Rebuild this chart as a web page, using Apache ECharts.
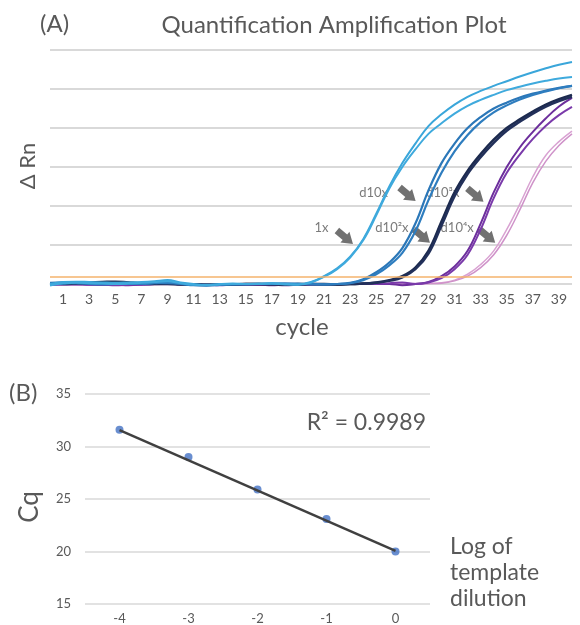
<!DOCTYPE html>
<html>
<head>
<meta charset="utf-8">
<script src="https://cdn.jsdelivr.net/npm/echarts@6/dist/echarts.min.js"></script>
<style>
  html, body { margin: 0; padding: 0; background: #fff; }
  #chart { width: 580px; height: 625px; }
</style>
</head>
<body>
<div id="chart"></div>
<script>
// ---- panel A : amplification curves (cycle 0..40) ----
const cycles = [0,1,2,3,4,5,6,7,8,9,10,11,12,13,14,15,16,17,18,19,20,21,22,23,24,25,26,27,28,29,30,31,32,33,34,35,36,37,38,39,40];
const threshold = 0.18;

const rn1xA = [0.0,0.05,0.06,0.05,0.04,0.03,0.04,0.05,0.07,0.1,0.04,0.0,-0.02,0.0,0.01,0.0,0.01,0.02,0.0,-0.01,0.05,0.2,0.4,0.7,1.15,1.8,2.5,3.1,3.6,4.05,4.35,4.6,4.8,4.95,5.08,5.2,5.32,5.43,5.53,5.62,5.69];
const rn1xB = [-0.04,0.02,0.03,0.02,0.01,0.0,0.01,0.03,0.05,0.07,0.02,-0.02,-0.03,-0.01,0.0,0.0,0.0,0.01,-0.01,-0.02,0.04,0.18,0.38,0.68,1.12,1.76,2.45,3.0,3.45,3.85,4.12,4.37,4.57,4.72,4.85,4.97,5.06,5.14,5.21,5.27,5.31];
const rn10xA = [0.03,0.04,0.02,0.0,-0.01,0.0,0.01,0.02,0.03,0.02,0.0,-0.03,-0.04,-0.02,-0.01,0.0,0.0,0.01,0.01,0.0,0.0,-0.01,0.0,0.03,0.12,0.3,0.55,0.92,1.55,2.4,3.1,3.6,4.0,4.28,4.5,4.65,4.78,4.88,4.96,5.03,5.08];
const rn10xB = [-0.02,0.01,0.03,0.02,0.01,0.01,0.0,0.0,0.02,0.04,0.01,-0.02,-0.03,-0.02,-0.01,-0.01,0.0,0.0,0.01,0.01,-0.01,-0.01,0.0,0.02,0.1,0.25,0.48,0.8,1.35,2.15,2.85,3.4,3.82,4.15,4.4,4.58,4.73,4.85,4.94,5.02,5.08];
const rn100xA = [0.0,0.02,0.03,0.04,0.05,0.06,0.04,0.02,0.01,0.01,0.0,-0.01,-0.02,-0.02,-0.01,0.0,0.0,0.0,-0.01,-0.01,0.0,0.0,-0.01,0.0,0.01,0.04,0.1,0.2,0.42,0.85,1.6,2.35,2.9,3.33,3.7,4.0,4.22,4.42,4.6,4.74,4.85];
const rn100xB = [0.01,0.0,0.01,0.02,0.03,0.04,0.03,0.01,0.0,0.0,-0.01,-0.01,-0.02,-0.01,-0.01,0.0,0.0,-0.01,-0.01,0.0,0.0,-0.01,-0.01,0.0,0.01,0.03,0.08,0.17,0.38,0.78,1.5,2.25,2.82,3.25,3.62,3.93,4.16,4.37,4.55,4.69,4.8];
const rn1000xA = [-0.01,0.0,0.0,-0.01,-0.02,-0.02,-0.03,-0.02,0.0,0.03,0.0,-0.01,-0.02,-0.02,-0.01,-0.01,-0.02,-0.02,-0.03,-0.02,-0.01,-0.01,0.0,0.0,0.0,0.0,0.0,-0.03,0.0,0.05,0.2,0.45,0.85,1.55,2.35,3.0,3.5,3.9,4.25,4.55,4.77];
const rn1000xB = [-0.02,-0.01,-0.01,-0.02,-0.02,-0.03,-0.02,-0.01,0.0,0.02,-0.01,-0.01,-0.02,-0.03,-0.02,-0.02,-0.02,-0.03,-0.02,-0.02,-0.01,0.0,0.0,0.0,0.0,0.0,0.02,0.04,0.0,0.04,0.15,0.38,0.75,1.4,2.2,2.85,3.32,3.72,4.06,4.33,4.54];
const rn10000xA = [-0.01,-0.01,-0.01,-0.02,-0.02,-0.02,-0.02,-0.01,-0.01,0.0,-0.01,-0.01,-0.02,-0.02,-0.01,-0.01,-0.01,-0.02,-0.02,-0.01,-0.01,-0.01,0.0,0.0,0.0,0.0,0.0,0.0,0.01,0.01,0.03,0.1,0.25,0.5,0.85,1.4,2.05,2.75,3.3,3.65,3.92];
const rn10000xB = [-0.02,-0.02,-0.02,-0.02,-0.03,-0.03,-0.02,-0.02,-0.01,-0.01,-0.01,-0.02,-0.02,-0.02,-0.02,-0.01,-0.01,-0.02,-0.02,-0.02,-0.01,-0.01,-0.01,0.0,0.0,0.0,0.0,0.0,0.0,0.01,0.02,0.08,0.2,0.42,0.75,1.25,1.9,2.6,3.15,3.55,3.85];

// annotation labels and arrow tips (cycle, ΔRn)
const noteText = ['1x', 'd10x', 'd10²x', 'd10³x', 'd10⁴x'];
const noteLabelAt = [[20.8, 1.44], [24.8, 2.34], [26.2, 1.44], [30.1, 2.34], [31.2, 1.44]];
const noteArrowAt = [[22.6, 1.2], [27.4, 2.3], [28.5, 1.23], [32.6, 2.28], [33.5, 1.23]];

// ---- panel B : standard curve ----
const logDilution = ['-4', '-3', '-2', '-1', '0'];
const cqValues = [31.6, 29.0, 25.9, 23.1, 20.0];
const trendValues = [31.55, null, null, null, 20.05];

const FONT = 'Lato';
const GREY = '#595959';

const chart = echarts.init(document.getElementById('chart'));

function curve(name, vals, color, width) {
  return {
    name: name,
    type: 'line',
    xAxisIndex: 0,
    yAxisIndex: 0,
    data: cycles.map((c, i) => [c, vals[i]]),
    smooth: 0.4,
    symbol: 'none',
    clip: false,
    silent: true,
    lineStyle: { color: color, width: width }
  };
}

const arrowPath = 'path://M0,3 L9,3 L9,0 L18,6 L9,12 L9,9 L0,9 Z';

const option = {
  animation: false,
  textStyle: { fontFamily: FONT },
  grid: [
    { left: 50, right: 8, top: 50, bottom: 341 },
    { left: 85, right: 150, top: 394, bottom: 20 }
  ],
  xAxis: [
    {
      type: 'value', gridIndex: 0, min: 0, max: 40, interval: 1,
      axisLine: { show: false }, axisTick: { show: false },
      splitLine: { show: false },
      axisLabel: {
        color: GREY, fontSize: 14, margin: 8, fontFamily: FONT,
        formatter: v => (v % 2 === 1 ? String(v) : '')
      }
    },
    {
      type: 'category', gridIndex: 1, data: logDilution, boundaryGap: true,
      axisLine: { show: false }, axisTick: { show: false },
      axisLabel: { color: GREY, fontSize: 13, margin: 8, fontFamily: FONT }
    }
  ],
  yAxis: [
    {
      type: 'value', gridIndex: 0, min: 0, max: 6, interval: 1,
      axisLabel: { show: false }, axisLine: { show: false }, axisTick: { show: false },
      splitLine: { lineStyle: { color: '#D9D9D9', width: 2 } }
    },
    {
      type: 'value', gridIndex: 1, min: 15, max: 35, interval: 5,
      axisLine: { show: false }, axisTick: { show: false },
      axisLabel: { color: GREY, fontSize: 13, margin: 14, fontFamily: FONT },
      splitLine: { lineStyle: { color: '#D9D9D9', width: 1.5 } }
    }
  ],
  series: [
    {
      type: 'line', xAxisIndex: 0, yAxisIndex: 0, data: [], silent: true,
      markLine: {
        silent: true, symbol: 'none', label: { show: false },
        lineStyle: { color: '#F5B36C', width: 1.5, type: 'solid' },
        data: [{ yAxis: threshold }]
      }
    },
    curve('d10⁴x a', rn10000xA, '#D9A2D2', 1.5),
    curve('d10⁴x b', rn10000xB, '#CF92C9', 1.5),
    curve('d10³x a', rn1000xA, '#6C2E9C', 2),
    curve('d10³x b', rn1000xB, '#7A3AAA', 2),
    curve('d10²x a', rn100xA, '#1C2A4E', 2.5),
    curve('d10²x b', rn100xB, '#22305A', 2.5),
    curve('d10x a', rn10xA, '#2B77B8', 2.2),
    curve('d10x b', rn10xB, '#2E7DBF', 2.2),
    curve('1x a', rn1xA, '#3AA6DA', 2),
    curve('1x b', rn1xB, '#3FAADD', 2),
    {
      type: 'scatter', xAxisIndex: 0, yAxisIndex: 0, silent: true,
      symbol: arrowPath, symbolSize: [21, 14], symbolRotate: -40,
      itemStyle: { color: '#4D4D4D' },
      data: noteArrowAt
    },
    {
      type: 'scatter', xAxisIndex: 0, yAxisIndex: 0, silent: true,
      symbolSize: 0,
      label: {
        show: true, position: 'inside', color: GREY, fontSize: 13, fontFamily: FONT,
        formatter: p => noteText[p.dataIndex]
      },
      data: noteLabelAt
    },
    {
      type: 'line', xAxisIndex: 1, yAxisIndex: 1, silent: true,
      data: trendValues, connectNulls: true, symbol: 'none',
      lineStyle: { color: '#404040', width: 2.5 }
    },
    {
      type: 'scatter', xAxisIndex: 1, yAxisIndex: 1, silent: true,
      data: cqValues, symbolSize: 8,
      itemStyle: { color: '#4472C4' }
    }
  ],
  graphic: [
    { type: 'text', left: 40, top: 12, style: { text: '(A)', fontSize: 24, fill: GREY, fontFamily: FONT } },
    { type: 'text', x: 334, y: 25, style: { text: 'Quantification Amplification Plot', fontSize: 24, fill: GREY, fontFamily: FONT, align: 'center', verticalAlign: 'middle' } },
    { type: 'text', x: 28, y: 166, rotation: Math.PI / 2, style: { text: 'Δ Rn', fontSize: 22, fill: GREY, fontFamily: FONT, align: 'center', verticalAlign: 'middle' } },
    { type: 'text', x: 302, y: 327, style: { text: 'cycle', fontSize: 24, fill: GREY, fontFamily: FONT, align: 'center', verticalAlign: 'middle' } },
    { type: 'text', left: 9, top: 381, style: { text: '(B)', fontSize: 24, fill: GREY, fontFamily: FONT } },
    { type: 'text', x: 426, y: 423, style: { text: 'R² = 0.9989', fontSize: 23, fill: GREY, fontFamily: FONT, align: 'right', verticalAlign: 'middle' } },
    { type: 'text', x: 30, y: 507, rotation: Math.PI / 2, style: { text: 'Cq', fontSize: 26, fill: GREY, fontFamily: FONT, align: 'center', verticalAlign: 'middle' } },
    { type: 'text', left: 450, top: 534, style: { text: 'Log of\ntemplate\ndilution', fontSize: 23, lineHeight: 26, fill: GREY, fontFamily: FONT } }
  ]
};

chart.setOption(option);
</script>
</body>
</html>
